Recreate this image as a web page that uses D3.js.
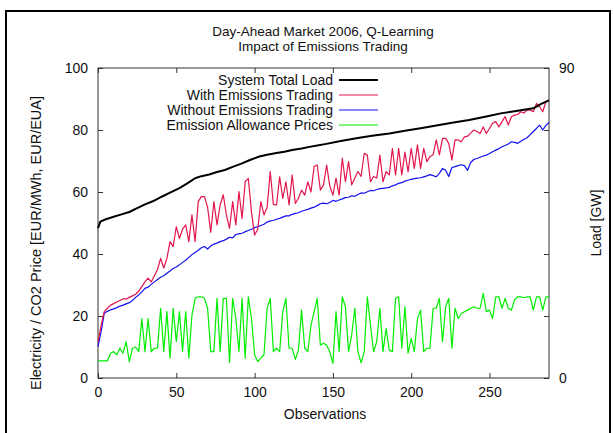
<!DOCTYPE html>
<html>
<head>
<meta charset="utf-8">
<script src="https://cdn.jsdelivr.net/npm/d3@7"></script>
<style>
  body { margin: 0; background: #fff; }
  svg text { font-family: "Liberation Sans", Arial, sans-serif; font-size: 14px; fill: #111; }
</style>
</head>
<body>
<script>
// observations every 2 steps for the price series
var priceObs = d3.range(0, 289, 2);

var withTrading = [11.7,17,21.4,22.5,23.5,24,24.5,25,25.5,25.5,26,26.5,27,28,29.5,31,32.2,31,33,35,
  38.6,35.5,38.6,44,42.4,48.8,45,48,49.4,44,52.6,44,56.9,58.5,58.5,55,47,56.9,49.4,55.8,
  59.1,52.6,48.3,56.9,49.4,60.1,51.5,63.3,64.4,53.6,46.1,48,56.9,52.6,55,66.6,56,55.8,64.9,57.9,
  63.3,55.8,65.5,56.3,58,60.6,59,63.3,60,68.2,68.7,60.6,62.3,68.7,62,59,64.5,59,70.9,63.3,
  69.8,62.3,64.5,66.6,65,72.5,71.9,63.3,65,64.5,71.9,63.3,66.6,65.5,74.1,65.5,74.1,65.5,72.9,66.5,
  74.1,67.6,75.2,67.6,74.1,69.8,71.4,72,76.8,72,77.3,77.3,75.7,70.3,76.8,76.8,76.2,77.8,78,79,
  80,79.5,78.9,81,78.9,80.5,82.2,82.7,81,82.7,84.3,81.6,84.3,84.8,85,85.9,85.5,86.5,86.4,85.9,
  88.6,87.5,85.9,89.1,89.7];

var withoutTrading = [10.1,15,20.9,21.5,22,22.3,22.7,23.2,23.5,23.9,24.3,25,26,26.8,27.8,28.9,29.3,30.2,31,31.8,
  32.5,33,33.8,34.5,35.3,35.8,36.5,37.3,38,38.9,39.8,40.5,41.2,42,42.4,41.6,42.6,43.2,43.5,44,
  44.3,44.8,45.4,45.2,46.3,46.5,46.7,47.2,47.6,48,48.5,48.8,49.2,49.6,50.3,50.7,50.8,51.2,51.5,51.9,
  52.3,52.3,52.8,53.1,53.3,53.8,54.1,54.4,54.8,55.1,55.6,56.2,56.4,56.2,56.6,57.3,57,57.4,57.8,58.2,
  58.3,58.8,58.6,59.2,59.7,59.6,60.1,60.5,60.4,60.8,61.1,61.2,61.3,61.5,62,62.3,62.8,63,63.5,63.8,
  64.1,64.3,64.5,64.6,64.9,65.2,65.6,65.3,64.9,66,67.6,67,65,67.9,68.2,68.5,68.8,68.5,67,69.5,
  70.5,70.8,71.2,71.6,71.9,72.4,73,73.5,74,74.6,75,75.5,76.2,76,75.7,76.4,77,77.5,78.5,79.5,
  80.5,81.6,80,81.5,82.4];

var allowancePrices = [5.5,5.5,5.5,5.5,8,8.5,7.5,9.6,8,11.7,5.3,9.6,10,8.5,19.2,8.5,19.2,8.5,9.6,9.6,
  22.5,8.5,21.4,6.4,22.5,11.7,21.4,8.5,21.4,6.4,20.3,25.7,26.2,26.2,25.7,22.5,8.5,8.5,25.7,8.5,
  25.7,25.7,5,25.7,19.2,8.5,25.7,6.4,26.2,19.2,7.5,5.3,6.4,7.5,22.5,25.7,8.5,9.6,8.5,21.4,
  25.7,9.6,9.6,6,9,21.9,9.6,8.5,17,21.4,25.7,10.6,11.2,10.6,8.5,4.7,21.4,8.5,26.2,23,
  8.5,13.9,22.5,8.5,4.9,8.5,26.2,17,8.5,11.7,22.5,8.5,16,9,8.5,25.7,26.2,9.6,23,8,
  12.8,8.5,19.2,21.9,8.5,9.6,9.6,22.5,22.5,25.7,11.7,23,25.7,9.6,22.5,19.2,20.8,21.4,21.9,22.5,
  23,22.5,22.5,27.3,21.4,21.9,19.2,26.2,26.2,22.5,25.7,22.5,21.9,25.2,26.2,26.2,25.9,26.2,26.2,21.9,
  26.2,26.2,21.9,26.2,26.2];

// system load in GW (right axis)
var loadObs = [0,1.5,5,10,15,20,25,30,35,41,46,52,57,62,66,71,76,81,86,92,97,103,108,114,119,124,
  130,135,140,145,155,165,175,186,196,207,217,227,237,248,258,268,278,283,288];
var loadGW = [43.5,45.4,46.1,46.8,47.5,48.2,49.3,50.4,51.3,52.7,53.8,55.1,56.5,58,58.6,59.1,59.8,60.4,61.3,62.3,
  63.3,64.3,64.8,65.3,65.7,66.2,66.6,67.1,67.5,67.9,68.8,69.6,70.3,71,71.8,72.6,73.4,74.2,74.9,75.9,
  76.9,77.6,78.3,79.6,80.6];

var xTicks = [0, 50, 100, 150, 200, 250];
var yTicks = [0, 20, 40, 60, 80, 100];
var y2Ticks = [0, 90];

var legendLabels = ["System Total Load", "With Emissions Trading", "Without Emissions Trading", "Emission Allowance Prices"];
var colors = ["#000000", "#e3164c", "#1010f0", "#00ee00"];

var W = 613, H = 433;
var margin = {left: 98, right: 64, top: 68, bottom: 55};

var svg = d3.select("body").append("svg")
    .attr("width", W)
    .attr("height", H);

// page frame
svg.append("path")
    .attr("d", "M6,433 V11 H610 V433")
    .attr("fill", "none")
    .attr("stroke", "#000")
    .attr("stroke-width", 2);

var x = d3.scaleLinear().domain([0, 288]).range([margin.left, W - margin.right]);
var y = d3.scaleLinear().domain([0, 100]).range([H - margin.bottom, margin.top]);
var y2 = d3.scaleLinear().domain([0, 90]).range([H - margin.bottom, margin.top]);

// axes, ticks pointing inward, mirrored
var gx = svg.append("g").attr("transform", "translate(0," + y(0) + ")")
    .call(d3.axisBottom(x).tickValues(xTicks).tickSizeInner(-5).tickSizeOuter(0).tickPadding(9));
var gxTop = svg.append("g").attr("transform", "translate(0," + y(100) + ")")
    .call(d3.axisTop(x).tickValues(xTicks).tickSizeInner(-5).tickSizeOuter(0).tickFormat(""));
var gy = svg.append("g").attr("transform", "translate(" + x(0) + ",0)")
    .call(d3.axisLeft(y).tickValues(yTicks).tickSizeInner(-5).tickSizeOuter(0).tickPadding(10));
var gyR = svg.append("g").attr("transform", "translate(" + x(288) + ",0)")
    .call(d3.axisRight(y).tickValues(yTicks).tickSizeInner(-5).tickSizeOuter(0).tickFormat(""));
var gy2 = svg.append("g").attr("transform", "translate(" + x(288) + ",0)")
    .call(d3.axisRight(y2).tickValues(y2Ticks).tickSize(0).tickPadding(10));

[gx, gxTop, gy, gyR, gy2].forEach(function (g) {
    g.select(".domain").remove();
    g.selectAll("line").attr("stroke", "#333");
    g.selectAll("text").style("font-size", "14px").attr("fill", "#111");
});

svg.append("rect")
    .attr("x", x(0)).attr("y", y(100))
    .attr("width", x(288) - x(0)).attr("height", y(0) - y(100))
    .attr("fill", "none").attr("stroke", "#333").attr("stroke-width", 1);

// titles
svg.append("text").attr("x", 323).attr("y", 36).attr("text-anchor", "middle")
    .style("font-size", "13.5px")
    .text("Day-Ahead Market 2006, Q-Learning");
svg.append("text").attr("x", 323).attr("y", 51).attr("text-anchor", "middle")
    .style("font-size", "13.5px")
    .text("Impact of Emissions Trading");
svg.append("text").attr("x", 325).attr("y", 419).attr("text-anchor", "middle")
    .text("Observations");
svg.append("text")
    .attr("transform", "translate(41," + ((y(0) + y(100)) / 2 + 20) + ") rotate(-90)")
    .attr("text-anchor", "middle")
    .style("font-size", "14.5px")
    .text("Electricity / CO2 Price [EUR/MWh, EUR/EUA]");
svg.append("text")
    .attr("transform", "translate(601," + ((y(0) + y(100)) / 2) + ") rotate(-90)")
    .attr("text-anchor", "middle")
    .text("Load [GW]");

// series
var line = d3.line().x(function (d) { return x(d[0]); }).y(function (d) { return y(d[1]); });
var line2 = d3.line().x(function (d) { return x(d[0]); }).y(function (d) { return y2(d[1]); });

var series = [
    {values: d3.zip(priceObs, allowancePrices), color: colors[3], width: 1.2, gen: line},
    {values: d3.zip(priceObs, withoutTrading), color: colors[2], width: 1.2, gen: line},
    {values: d3.zip(priceObs, withTrading), color: colors[1], width: 1.2, gen: line},
    {values: d3.zip(loadObs, loadGW), color: colors[0], width: 2, gen: line2}
];

svg.append("g").selectAll("path")
    .data(series)
    .enter().append("path")
    .attr("d", function (d) { return d.gen(d.values); })
    .attr("fill", "none")
    .attr("stroke", function (d) { return d.color; })
    .attr("stroke-width", function (d) { return d.width; })
    .attr("stroke-linejoin", "round");

// legend
var legend = svg.append("g").selectAll("g")
    .data(legendLabels)
    .enter().append("g")
    .attr("transform", function (d, i) { return "translate(0," + (80 + i * 15) + ")"; });

legend.append("text")
    .attr("x", 333).attr("y", 5)
    .attr("text-anchor", "end")
    .text(function (d) { return d; });
legend.append("line")
    .attr("x1", 339).attr("x2", 378)
    .attr("y1", 0).attr("y2", 0)
    .attr("stroke", function (d, i) { return colors[i]; })
    .attr("stroke-width", function (d, i) { return i == 0 ? 2 : 1.2; });
</script>
</body>
</html>
